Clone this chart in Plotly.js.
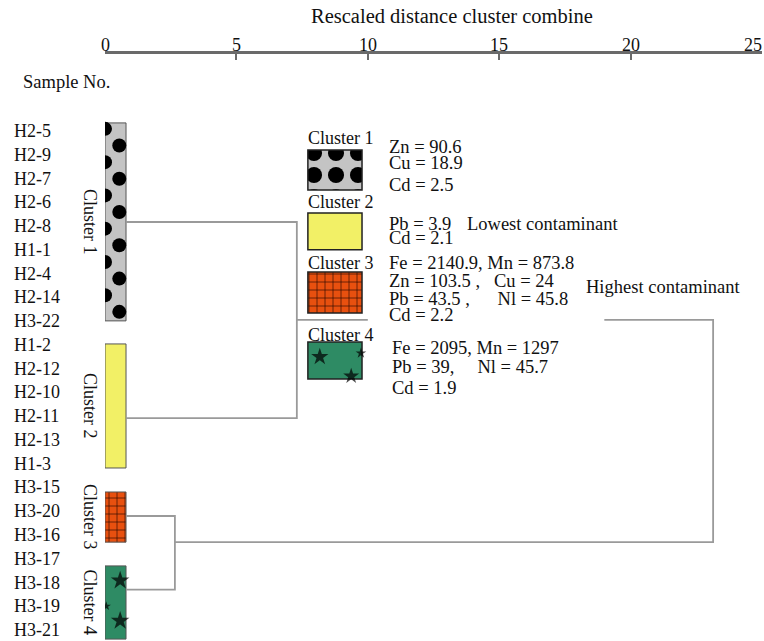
<!DOCTYPE html>
<html>
<head>
<meta charset="utf-8">
<script src="https://cdn.plot.ly/plotly-3.0.1.min.js"></script>
<style>html,body{margin:0;padding:0;background:#fff;}#chart{width:764px;height:641px;}</style>
</head>
<body>
<div id="chart"></div>
<script>
// ---------------- data ----------------
const samples = ['H2-5','H2-9','H2-7','H2-6','H2-8','H1-1','H2-4','H2-14','H3-22',
  'H1-2','H2-12','H2-10','H2-11','H2-13','H1-3',
  'H3-15','H3-20','H3-16','H3-17','H3-18','H3-19','H3-21'];
const clusterNames = ['Cluster 1','Cluster 2','Cluster 3','Cluster 4'];
// bar extent of each cluster along the sample axis (row units)
const clusterRowStart = [-0.34, 8.96, 15.19, 18.3];
const clusterRowEnd   = [7.99, 14.18, 17.3, 21.38];
// row where each cluster's branch leaves its bar
const clusterLinkRow  = [3.83, 12.08, 16.2, 19.3];
const leafDistance = 0.8;              // rescaled distance of the cluster bars' edge
// merges: [childA, childB] (c# = cluster, m# = merge), distance, row of merged branch
const mergeChildren = [['c0','c1'], ['c2','c3'], ['m0','m1']];
const mergeDistance = [7.3, 2.66, 23.14];
const mergeRow      = [7.95, 17.3, 12.6];
const tickValues = [0, 5, 10, 15, 20, 25];
const tickLabels = ['0', '5', '10', '15', '20', '25'];
const clusterStats = [
  ['Zn = 90.6', 'Cu = 18.9', 'Cd = 2.5'],
  ['Pb = 3.9', 'Cd = 2.1'],
  ['Fe = 2140.9, Mn = 873.8', 'Zn = 103.5\u00a0,\u00a0\u00a0\u00a0Cu = 24', 'Pb = 43.5\u00a0,\u00a0\u00a0\u00a0\u00a0\u00a0\u00a0Nl = 45.8', 'Cd = 2.2'],
  ['Fe = 2095, Mn = 1297', 'Pb = 39,\u00a0\u00a0\u00a0\u00a0\u00a0Nl = 45.7', 'Cd = 1.9']
];
const contaminantNotes = ['Lowest contaminant', 'Highest contaminant'];

// ---------------- styles / layout positions ----------------
const FONT = "'Liberation Serif', 'Times New Roman', Times, serif";
const clusterColors = ['#c4c4c4', '#f2f066', '#e8500f', '#2e8b64'];
const clusterPatterns = [
  {shape: '', fillmode: 'overlay'},
  {shape: '', fillmode: 'overlay'},
  {shape: '+', fgcolor: '#2a0800', fgopacity: 1, size: 8, solidity: 0.16, fillmode: 'overlay'},
  {shape: '', fillmode: 'overlay'}
];
const swatchPatterns = [
  {shape: '.', fgcolor: '#000000', fgopacity: 1, size: 22, solidity: 0.42, fillmode: 'overlay'},
  clusterPatterns[1], clusterPatterns[2], clusterPatterns[3]
];
// legend swatches (x in distance units, y in row units)
const swatchX0 = 7.72, swatchX1 = 9.78;
const swatchRows = [[0.80, 2.48], [3.45, 5.0], [5.93, 7.66], [8.88, 10.44]];
const swatchLabelRow = [0.29, 2.99, 5.56, 8.59];
const swatchLabelX = 7.65;
const statsX = [10.73, 10.73, 10.73, 10.85];
const statsRows = [[0.67, 1.35, 2.27], [3.91, 4.5], [5.56, 6.31, 7.07, 7.74], [9.13, 9.93, 10.82]];
const notePos = [[13.7, 3.91], [18.23, 6.57]];

const traces = [];

// cluster bars
clusterNames.forEach((name, i) => {
  traces.push({
    type: 'bar', orientation: 'h',
    y: [(clusterRowStart[i] + clusterRowEnd[i]) / 2],
    x: [leafDistance], base: [0],
    width: [clusterRowEnd[i] - clusterRowStart[i]],
    marker: {color: clusterColors[i], pattern: clusterPatterns[i], line: {color: '#555', width: 1}},
    hoverinfo: 'skip', showlegend: false
  });
  // legend swatch
  traces.push({
    type: 'bar', orientation: 'h',
    y: [(swatchRows[i][0] + swatchRows[i][1]) / 2],
    x: [swatchX1 - swatchX0], base: [swatchX0],
    width: [swatchRows[i][1] - swatchRows[i][0]],
    marker: {color: clusterColors[i], pattern: swatchPatterns[i], line: {color: '#222', width: 1.5}},
    hoverinfo: 'skip', showlegend: false
  });
});

// staggered dot texture on cluster 1 bar (left edge half dots, right side dots)
(function () {
  const c = 0, step = 1.4;
  const xs = [], ys = [];
  for (let y = clusterRowStart[c] + 0.25; y < clusterRowEnd[c] - 0.3; y += step) { xs.push(0); ys.push(y); }
  for (let y = clusterRowStart[c] + 0.95; y < clusterRowEnd[c] - 0.3; y += step) { xs.push(leafDistance * 0.68); ys.push(y); }
  traces.push({
    type: 'scatter', mode: 'markers', x: xs, y: ys,
    marker: {symbol: 'circle', color: '#000', size: 14, line: {width: 0}},
    cliponaxis: true, hoverinfo: 'skip', showlegend: false
  });
})();

// stars on cluster 4 bar and swatch
(function () {
  const c = 3;
  const len = clusterRowEnd[c] - clusterRowStart[c];
  const sl = swatchRows[c][1] - swatchRows[c][0];
  const sw = swatchX1 - swatchX0;
  traces.push({
    type: 'scatter', mode: 'markers',
    x: [leafDistance * 0.72, leafDistance * 0.72, leafDistance * 0.06,
        swatchX0 + sw * 0.22, swatchX0 + sw * 0.8, swatchX0 + sw * 0.98],
    y: [clusterRowStart[c] + len * 0.2, clusterRowStart[c] + len * 0.75, clusterRowStart[c] + len * 0.55,
        swatchRows[c][0] + sl * 0.4, swatchRows[c][0] + sl * 0.92, swatchRows[c][0] + sl * 0.3],
    marker: {symbol: 'star', color: '#000', size: [14, 14, 7, 13, 12, 8], line: {width: 0}},
    cliponaxis: true, hoverinfo: 'skip', showlegend: false
  });
})();

// dendrogram links
function node(id) {
  const k = +id.slice(1);
  return id[0] === 'c' ? [leafDistance, clusterLinkRow[k]] : [mergeDistance[k], mergeRow[k]];
}
mergeChildren.forEach((ch, k) => {
  const a = node(ch[0]), b = node(ch[1]);
  traces.push({
    type: 'scatter', mode: 'lines',
    x: [a[0], mergeDistance[k], mergeDistance[k], b[0]],
    y: [a[1], a[1], b[1], b[1]],
    line: {color: '#9a9a9a', width: 1.8},
    hoverinfo: 'skip', showlegend: false
  });
});

// ---------------- annotations ----------------
const ann = [];
const txt = (text, x, y, opts) => Object.assign({
  text, x, y, xref: 'x', yref: 'y', showarrow: false, xanchor: 'left', yanchor: 'middle',
  font: {family: FONT, size: 18.5, color: '#111'}
}, opts || {});

// axis tick labels (drawn as serif text above the top axis)
tickValues.forEach((v, i) => ann.push({
  text: tickLabels[i], x: v, xref: 'x', y: 1.0153, yref: 'paper', showarrow: false,
  xanchor: i === tickValues.length - 1 ? 'right' : 'center', yanchor: 'middle',
  xshift: i === tickValues.length - 1 ? 2 : 0,
  font: {family: FONT, size: 18, color: '#111'}
}));

samples.forEach((s, i) => ann.push(txt(s, -0.1416, i, {xref: 'paper', font: {family: FONT, size: 18, color: '#111'}})));
ann.push(txt('Sample No.', -0.128, -2.06, {xref: 'paper', font: {family: FONT, size: 18.5, color: '#111'}}));
ann.push({text: 'Rescaled distance cluster combine', xref: 'paper', yref: 'paper', x: 0.528, y: 1.065,
  showarrow: false, xanchor: 'center', yanchor: 'middle', font: {family: FONT, size: 20.5, color: '#111'}});

clusterNames.forEach((name, i) => {
  ann.push(txt(name, -0.0228, (clusterRowStart[i] + clusterRowEnd[i]) / 2,
    {xref: 'paper', xanchor: 'center', textangle: 90, font: {family: FONT, size: 18, color: '#111'}}));
  ann.push(txt(name, swatchLabelX, swatchLabelRow[i], {font: {family: FONT, size: 18, color: '#111'}}));
  clusterStats[i].forEach((s, j) => ann.push(txt(s, statsX[i], statsRows[i][j])));
});
contaminantNotes.forEach((n, i) => ann.push(txt(n, notePos[i][0], notePos[i][1], {font: {family: FONT, size: 18.5, color: '#111'}})));

const layout = {
  width: 764, height: 641,
  font: {family: FONT, color: '#111'},
  margin: {l: 105, r: 2, t: 54, b: 0, pad: 0},
  paper_bgcolor: '#fff', plot_bgcolor: '#fff',
  showlegend: false, barmode: 'overlay',
  xaxis: {
    side: 'top', range: [0, 25], tickvals: tickValues, showticklabels: false,
    ticks: 'inside', ticklen: 6, tickwidth: 2, tickcolor: '#6a6a6a',
    showline: true, linecolor: '#6a6a6a', linewidth: 3, mirror: false,
    showgrid: false, zeroline: false, fixedrange: true
  },
  yaxis: {range: [21.46, -3.24], visible: false, showgrid: false, zeroline: false, fixedrange: true},
  shapes: [{type: 'rect', xref: 'x', yref: 'y', x0: 10.0, x1: 19.0, y0: 7.6, y1: 8.3,
    fillcolor: '#fff', line: {width: 0}, layer: 'above'}],
  annotations: ann
};

Plotly.newPlot('chart', traces, layout, {displayModeBar: false, staticPlot: true});
</script>
</body>
</html>
